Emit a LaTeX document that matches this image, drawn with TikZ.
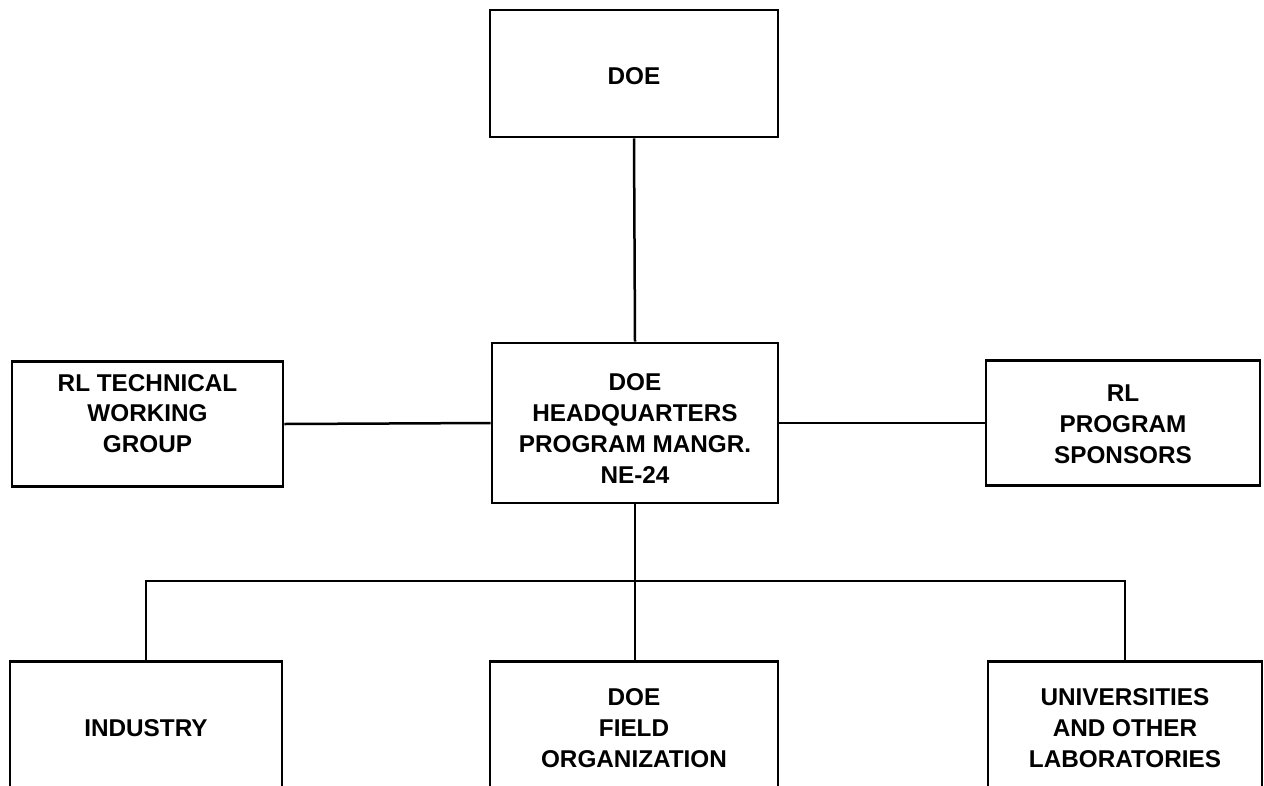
\documentclass[tikz,border=0pt]{standalone}
\usepackage{fontspec}
\setmainfont{Liberation Sans}
\begin{document}
\begin{tikzpicture}[x=1pt,y=-1pt,
  box/.style={draw, line width=2.8pt, rectangle, inner sep=0pt},
  txt/.style={font=\fontsize{24.3}{30.8}\selectfont\bfseries, align=center, inner sep=0pt},
  conn/.style={line width=2.5pt}]
\clip (0,0) rectangle (1264,785);
\fill[white] (0,0) rectangle (1264,785);
% boxes
\node[box, minimum width=288pt, minimum height=127pt] (doe) at (634,73.5) {};
\node[txt] (doet) at (634,76) {DOE};
\node[box, minimum width=286pt, minimum height=160pt] (hq) at (635,423) {};
\node[txt] (hqt) at (635,428.5) {DOE\\HEADQUARTERS\\PROGRAM MANGR.\\NE-24};
\node[box, minimum width=271pt, minimum height=125pt] (twg) at (147.5,424) {};
\node[txt] (twgt) at (147.5,413.5) {RL TECHNICAL\\WORKING\\GROUP};
\node[box, minimum width=274pt, minimum height=125pt] (spn) at (1123,423) {};
\node[txt] (spnt) at (1123,424) {RL\\PROGRAM\\SPONSORS};
% bottom boxes (open at the bottom, cut by the page edge)
\node[box, minimum width=272pt, minimum height=260pt, anchor=north] (ind) at (146,660) {};
\node[txt] (indt) at (146,728) {INDUSTRY};
\node[box, minimum width=288pt, minimum height=260pt, anchor=north] (fld) at (634,660) {};
\node[txt] (fldt) at (634,728) {DOE\\FIELD\\ORGANIZATION};
\node[box, minimum width=274pt, minimum height=260pt, anchor=north] (uni) at (1125,660) {};
\node[txt] (unit) at (1125,728) {UNIVERSITIES\\AND OTHER\\LABORATORIES};
% connectors
\coordinate (bus) at (635,581);
\draw[conn] (doe.south) -- (hq.north);
\draw[conn] (twg.east) -- (hq.west);
\draw[conn] (hq.east) -- (spn.west);
\draw[conn] (hq.south) -- (fld.north -| hq.south);
\draw[conn] (ind.north) -- (ind.north |- bus) -- (uni.north |- bus) -- (uni.north);
\end{tikzpicture}
\end{document}
